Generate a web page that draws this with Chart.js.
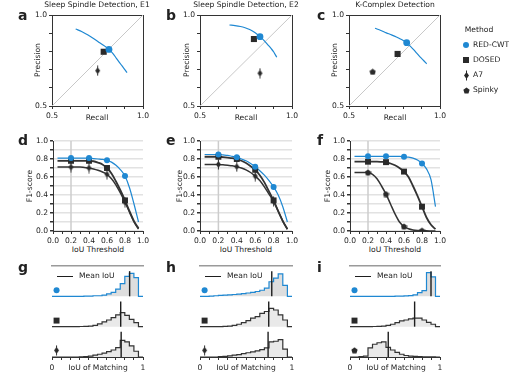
<!DOCTYPE html>
<html>
<head>
<meta charset="utf-8">
<script src="https://cdn.jsdelivr.net/npm/chart.js@4.4.1/dist/chart.umd.min.js"></script>
<style>
    body { margin: 0; width: 509px; height: 373px; overflow: hidden; position: relative; background: #fff; font-family: 'DejaVu Sans', sans-serif; color: #222; }
    canvas { position: absolute; }
    .t { position: absolute; white-space: nowrap; line-height: 1; font-size: 7.6px; transform: translate(-50%, -50%); }
    .letter { position: absolute; font-weight: bold; font-size: 14px; line-height: 1; }
    .mk { position: absolute; }
</style>
</head>
<body>
<script>
// ---- data ----

// precision / recall (a, b, c)
const e1CurveRecall = [0.63, 0.665, 0.698, 0.73, 0.762, 0.79, 0.813, 0.835, 0.854, 0.87, 0.885, 0.90, 0.912];
const e1CurvePrecision = [0.923, 0.908, 0.89, 0.87, 0.848, 0.829, 0.811, 0.788, 0.762, 0.74, 0.72, 0.70, 0.683];
const e1Red = [0.813, 0.811];   // [recall, precision]
const e1Dosed = [0.784, 0.798];
const e1A7 = [0.751, 0.694];

const e2CurveRecall = [0.66, 0.69, 0.72, 0.745, 0.77, 0.80, 0.826, 0.85, 0.87, 0.887, 0.90, 0.917];
const e2CurvePrecision = [0.945, 0.942, 0.937, 0.93, 0.92, 0.902, 0.881, 0.858, 0.835, 0.815, 0.798, 0.768];
const e2Red = [0.826, 0.881];
const e2Dosed = [0.793, 0.868];
const e2A7 = [0.826, 0.68];

const kcCurveRecall = [0.643, 0.675, 0.705, 0.725, 0.75, 0.775, 0.80, 0.817, 0.835, 0.855, 0.872, 0.89, 0.91, 0.927];
const kcCurvePrecision = [0.927, 0.915, 0.902, 0.894, 0.884, 0.872, 0.859, 0.848, 0.83, 0.81, 0.79, 0.77, 0.75, 0.732];
const kcRed = [0.817, 0.848];
const kcDosed = [0.767, 0.786];
const kcSpinky = [0.63, 0.688];

// F1 vs IoU threshold (d, e, f)
const iouThresholds = [0.05, 0.1, 0.15, 0.2, 0.25, 0.3, 0.35, 0.4, 0.45, 0.5, 0.55, 0.6, 0.65, 0.7, 0.75, 0.8, 0.85, 0.9, 0.95];
const markedThresholds = [0.2, 0.4, 0.6, 0.8];
const defaultThreshold = 0.2;

const e1F1Red = [0.81, 0.81, 0.81, 0.81, 0.81, 0.81, 0.81, 0.81, 0.805, 0.80, 0.795, 0.785, 0.765, 0.73, 0.68, 0.61, 0.48, 0.30, 0.10];
const e1F1Dosed = [0.78, 0.78, 0.78, 0.78, 0.78, 0.78, 0.78, 0.78, 0.775, 0.76, 0.74, 0.70, 0.64, 0.55, 0.45, 0.34, 0.22, 0.11, 0.03];
const e1F1A7 = [0.71, 0.71, 0.71, 0.71, 0.71, 0.71, 0.705, 0.70, 0.69, 0.675, 0.655, 0.63, 0.58, 0.51, 0.42, 0.32, 0.21, 0.10, 0.02];

const e2F1Red = [0.85, 0.85, 0.85, 0.85, 0.845, 0.84, 0.83, 0.82, 0.80, 0.78, 0.75, 0.715, 0.67, 0.62, 0.56, 0.49, 0.40, 0.27, 0.10];
const e2F1Dosed = [0.825, 0.825, 0.825, 0.825, 0.82, 0.815, 0.81, 0.80, 0.78, 0.755, 0.72, 0.68, 0.62, 0.54, 0.44, 0.34, 0.22, 0.11, 0.02];
const e2F1A7 = [0.74, 0.74, 0.74, 0.74, 0.735, 0.73, 0.725, 0.715, 0.70, 0.68, 0.65, 0.61, 0.56, 0.49, 0.41, 0.33, 0.22, 0.11, 0.02];

const kcF1Red = [0.83, 0.83, 0.83, 0.83, 0.83, 0.83, 0.83, 0.83, 0.83, 0.83, 0.83, 0.825, 0.82, 0.81, 0.79, 0.75, 0.69, 0.57, 0.27];
const kcF1Dosed = [0.77, 0.77, 0.77, 0.77, 0.77, 0.77, 0.768, 0.765, 0.75, 0.73, 0.70, 0.66, 0.60, 0.50, 0.39, 0.27, 0.15, 0.07, 0.02];
const kcF1Spinky = [0.65, 0.65, 0.65, 0.65, 0.63, 0.58, 0.50, 0.41, 0.30, 0.19, 0.10, 0.05, 0.025, 0.012, 0.006, 0.004, 0.002, 0.001, 0];

// IoU histograms (g, h, i): 20 bins, height as fraction of a row
const binLeft = [0, 0.05, 0.1, 0.15, 0.2, 0.25, 0.3, 0.35, 0.4, 0.45, 0.5, 0.55, 0.6, 0.65, 0.7, 0.75, 0.8, 0.85, 0.9, 0.95];
const e1HistRed = [0, 0, 0, 0, 0, 0, 0, 0, 0.01, 0.01, 0.02, 0.02, 0.04, 0.08, 0.13, 0.24, 0.42, 0.66, 0.76, 0.62];
const e1HistDosed = [0, 0, 0, 0, 0, 0, 0, 0.005, 0.01, 0.02, 0.045, 0.09, 0.16, 0.22, 0.3, 0.39, 0.46, 0.37, 0.24, 0.13];
const e1HistA7 = [0, 0, 0, 0, 0, 0, 0, 0.005, 0.01, 0.03, 0.06, 0.09, 0.13, 0.18, 0.23, 0.31, 0.55, 0.5, 0.37, 0.19];
const e1MeanIoU = [0.853, 0.755, 0.76];

const e2HistRed = [0, 0, 0, 0.01, 0.02, 0.03, 0.04, 0.05, 0.06, 0.07, 0.09, 0.11, 0.13, 0.16, 0.2, 0.27, 0.48, 0.6, 0.74, 0.36];
const e2HistDosed = [0, 0, 0, 0, 0, 0, 0.01, 0.02, 0.04, 0.08, 0.13, 0.2, 0.28, 0.33, 0.44, 0.5, 0.6, 0.55, 0.39, 0.22];
const e2HistA7 = [0, 0, 0, 0, 0, 0.01, 0.02, 0.04, 0.06, 0.08, 0.11, 0.14, 0.17, 0.2, 0.24, 0.3, 0.5, 0.52, 0.57, 0.26];
const e2MeanIoU = [0.78, 0.747, 0.74];

const kcHistRed = [0, 0, 0, 0, 0, 0, 0, 0, 0, 0, 0, 0.005, 0.01, 0.015, 0.025, 0.05, 0.12, 0.19, 0.78, 0.64];
const kcHistDosed = [0, 0, 0, 0, 0, 0, 0.005, 0.01, 0.02, 0.04, 0.08, 0.13, 0.19, 0.22, 0.26, 0.28, 0.28, 0.22, 0.14, 0.08];
const kcHistSpinky = [0, 0, 0, 0.01, 0.03, 0.3, 0.42, 0.47, 0.5, 0.32, 0.23, 0.15, 0.09, 0.05, 0.03, 0.02, 0.01, 0.005, 0.003, 0.002];
const kcMeanIoU = [0.90, 0.718, 0.425];

// ---- styling ----
const BLUE = '#1f88d2';
const DARK = '#2a2a2a';
const LINE_DARK = '#333333';

Chart.defaults.font.family = 'DejaVu Sans';
Chart.defaults.font.size = 7.6;
Chart.defaults.color = '#222';
Chart.defaults.animation = false;
Chart.defaults.plugins.legend.display = false;
Chart.defaults.plugins.tooltip.enabled = false;

// thin diamond with a short vertical error bar (A7)
function makeDiamond() {
    const c = document.createElement('canvas');
    c.width = 7; c.height = 11;
    const ctx = c.getContext('2d');
    ctx.fillStyle = DARK;
    ctx.fillRect(3, 0.5, 1, 10);
    ctx.beginPath();
    ctx.moveTo(3.5, 2); ctx.lineTo(6, 5.5); ctx.lineTo(3.5, 9); ctx.lineTo(1, 5.5);
    ctx.closePath();
    ctx.fill();
    return c;
}

// pentagon marker (Spinky)
function makePentagon() {
    const c = document.createElement('canvas');
    c.width = 7; c.height = 7;
    const ctx = c.getContext('2d');
    ctx.fillStyle = DARK;
    ctx.beginPath();
    for (let k = 0; k < 5; k++) {
        const a = -Math.PI / 2 + k * 2 * Math.PI / 5;
        const px = 3.5 + 3.3 * Math.cos(a), py = 3.8 + 3.3 * Math.sin(a);
        if (k === 0) ctx.moveTo(px, py); else ctx.lineTo(px, py);
    }
    ctx.closePath();
    ctx.fill();
    return c;
}

const diamondStyle = makeDiamond();
const pentagonStyle = makePentagon();

function near(a, b) { return Math.abs(a - b) < 1e-6; }

// places a chart so that its plot area is exactly r = {x, y, w, h}
function makePanel(r, padL, padB, datasets, scales) {
    const padT = 8, padR = 14;
    const canvas = document.createElement('canvas');
    canvas.width = r.w + padL + padR;
    canvas.height = r.h + padT + padB;
    canvas.style.left = (r.x - padL) + 'px';
    canvas.style.top = (r.y - padT) + 'px';
    document.body.appendChild(canvas);

    const yShown = scales.y.display !== false;
    scales.x.afterFit = s => { s.height = padB; s.paddingLeft = 0; s.paddingRight = 0; };
    if (yShown) scales.y.afterFit = s => { s.width = padL; s.paddingTop = 0; s.paddingBottom = 0; };
    if (scales.x2) scales.x2.afterFit = s => { s.height = 0; s.paddingLeft = 0; s.paddingRight = 0; };
    if (scales.y2) scales.y2.afterFit = s => { s.width = 0; s.paddingTop = 0; s.paddingBottom = 0; };

    return new Chart(canvas, {
        type: 'line',
        data: { datasets: datasets },
        options: {
            responsive: false,
            layout: { padding: { left: yShown ? 0 : padL, top: padT, right: padR, bottom: 0 } },
            scales: scales
        }
    });
}

function spine(position, color, width) {
    return {
        type: 'linear', position: position, min: 0, max: 1,
        ticks: { display: false },
        grid: { display: false },
        border: { color: color, width: width }
    };
}

function curve(xs, ys, color, width, order) {
    return {
        data: xs.map((x, i) => ({ x: x, y: ys[i] })),
        borderColor: color, borderWidth: width,
        pointRadius: 0, cubicInterpolationMode: 'monotone', fill: false, order: order
    };
}

function markers(points, style, color, radius, order) {
    return {
        data: points.map(p => ({ x: p[0], y: p[1] })),
        showLine: false, pointStyle: style, pointRadius: radius,
        backgroundColor: color, borderColor: color, borderWidth: 0, order: order
    };
}

// ---- a, b, c : precision vs recall ----
function prScales() {
    const axis = position => ({
        type: 'linear', position: position, min: 0.5, max: 1,
        ticks: {
            stepSize: 0.1, autoSkip: false, maxRotation: 0, padding: 2,
            callback: v => (near(v, 0.5) || near(v, 1)) ? v.toFixed(1) : ''
        },
        grid: { drawOnChartArea: false, tickLength: 3, tickColor: LINE_DARK },
        border: { color: LINE_DARK, width: 1 }
    });
    return { x: axis('bottom'), y: axis('left'), x2: spine('top', LINE_DARK, 1), y2: spine('right', LINE_DARK, 1) };
}

function diagonal() {
    return {
        data: [{ x: 0.5, y: 0.5 }, { x: 1, y: 1 }],
        borderColor: '#c8c8c8', borderWidth: 1, pointRadius: 0, order: 10
    };
}

function prPanel(r, recall, precision, red, dosed, other, otherStyle) {
    makePanel(r, 22, 14, [
        diagonal(),
        curve(recall, precision, BLUE, 1.2, 5),
        markers([dosed], 'rect', DARK, 4.3, 2),
        markers([other], otherStyle, DARK, 3, 2),
        markers([red], 'circle', BLUE, 3.4, 1)
    ], prScales());
}

prPanel({ x: 52, y: 15, w: 91, h: 91 }, e1CurveRecall, e1CurvePrecision, e1Red, e1Dosed, e1A7, diamondStyle);
prPanel({ x: 200, y: 15, w: 92, h: 91 }, e2CurveRecall, e2CurvePrecision, e2Red, e2Dosed, e2A7, diamondStyle);
prPanel({ x: 349, y: 15, w: 91, h: 91 }, kcCurveRecall, kcCurvePrecision, kcRed, kcDosed, kcSpinky, pentagonStyle);

// ---- d, e, f : F1 vs IoU threshold ----
function f1Scales() {
    const evenLabel = (v, i) => i % 2 === 0 ? v.toFixed(1) : '';
    return {
        x: {
            type: 'linear', min: 0, max: 1,
            ticks: { stepSize: 0.1, autoSkip: false, maxRotation: 0, padding: 2, callback: evenLabel },
            grid: { drawOnChartArea: false, tickLength: 3, tickColor: LINE_DARK },
            border: { color: LINE_DARK, width: 1 }
        },
        y: {
            type: 'linear', min: 0, max: 1,
            ticks: { stepSize: 0.1, autoSkip: false, padding: 2, callback: evenLabel },
            grid: { color: '#e2e2e2', lineWidth: 1.5, tickLength: 3, tickColor: LINE_DARK },
            border: { color: LINE_DARK, width: 1 }
        }
    };
}

function atThresholds(ys) {
    return markedThresholds.map(t => [t, ys[iouThresholds.indexOf(t)]]);
}

function f1Panel(r, red, dosed, other, otherStyle) {
    makePanel(r, 22, 14, [
        { data: [{ x: defaultThreshold, y: 0 }, { x: defaultThreshold, y: 1 }], borderColor: '#cccccc', borderWidth: 1.5, pointRadius: 0, order: 10 },
        curve(iouThresholds, other, LINE_DARK, 1.5, 7),
        curve(iouThresholds, dosed, LINE_DARK, 1.8, 6),
        curve(iouThresholds, red, BLUE, 1.2, 5),
        markers(atThresholds(other), otherStyle, DARK, 3, 3),
        markers(atThresholds(dosed), 'rect', DARK, 4.2, 2),
        markers(atThresholds(red), 'circle', BLUE, 3, 1)
    ], f1Scales());
}

f1Panel({ x: 53, y: 141, w: 90, h: 90 }, e1F1Red, e1F1Dosed, e1F1A7, diamondStyle);
f1Panel({ x: 200, y: 141, w: 92, h: 90 }, e2F1Red, e2F1Dosed, e2F1A7, diamondStyle);
f1Panel({ x: 350, y: 141, w: 90, h: 90 }, kcF1Red, kcF1Dosed, kcF1Spinky, pentagonStyle);

// ---- g, h, i : IoU histograms, three rows stacked (baselines 2, 1, 0) ----
function histRow(heights, base, color, fillColor, order) {
    const pts = binLeft.map((x, i) => ({ x: x, y: base + heights[i] }));
    pts.push({ x: 1, y: base });
    return {
        data: pts, stepped: 'after', borderColor: color, borderWidth: 1.2,
        backgroundColor: fillColor, fill: { value: base }, pointRadius: 0, order: order
    };
}

function meanLine(m, base) {
    return { data: [{ x: m, y: base }, { x: m, y: base + 0.83 }], borderColor: '#1e1e1e', borderWidth: 1.4, pointRadius: 0, order: 1 };
}

function histPanel(r, rows, means, otherStyle) {
    const bases = [2, 1, 0];
    const datasets = [
        histRow(rows[0], 2, BLUE, '#dedede', 5),
        histRow(rows[1], 1, LINE_DARK, '#e9e9e9', 5),
        histRow(rows[2], 0, LINE_DARK, '#e9e9e9', 5)
    ];
    means.forEach((m, k) => datasets.push(meanLine(m, bases[k])));
    datasets.push(markers([[0.05, 2.2]], 'circle', BLUE, 3, 0));
    datasets.push(markers([[0.05, 1.2]], 'rect', DARK, 4.2, 0));
    datasets.push(markers([[0.05, 0.22]], otherStyle, DARK, 3, 0));
    makePanel(r, 12, 14, datasets, {
        x: {
            type: 'linear', min: 0, max: 1,
            ticks: { stepSize: 0.1, autoSkip: false, maxRotation: 0, padding: 3, callback: v => near(v, 0) ? '0' : (near(v, 1) ? '1' : '') },
            grid: { drawOnChartArea: false, tickLength: 3, tickColor: LINE_DARK },
            border: { color: LINE_DARK, width: 1 }
        },
        x2: spine('top', '#9a9a9a', 1.5),
        y: { display: false, min: 0, max: 3 }
    });
}

histPanel({ x: 52, y: 266, w: 91, h: 91 }, [e1HistRed, e1HistDosed, e1HistA7], e1MeanIoU, diamondStyle);
histPanel({ x: 200, y: 266, w: 92, h: 91 }, [e2HistRed, e2HistDosed, e2HistA7], e2MeanIoU, diamondStyle);
histPanel({ x: 350, y: 266, w: 90, h: 91 }, [kcHistRed, kcHistDosed, kcHistSpinky], kcMeanIoU, pentagonStyle);

// ---- text ----
function text(str, x, y, rotate) {
    const d = document.createElement('div');
    d.className = 't';
    d.textContent = str;
    d.style.left = x + 'px';
    d.style.top = y + 'px';
    if (rotate) d.style.transform = 'translate(-50%, -50%) rotate(-90deg)';
    document.body.appendChild(d);
    return d;
}

function leftText(str, x, y) {
    const d = text(str, x, y);
    d.style.transform = 'translate(0, -50%)';
}

function letter(ch, x, baseline) {
    const d = document.createElement('div');
    d.className = 'letter';
    d.textContent = ch;
    d.style.left = x + 'px';
    d.style.top = (baseline - 11.8) + 'px';
    document.body.appendChild(d);
}

text('Sleep Spindle Detection, E1', 97, 5);
text('Sleep Spindle Detection, E2', 246, 5);
text('K-Complex Detection', 395, 5);

[[97, 38], [246, 187], [395, 335]].forEach(p => {
    text('Recall', p[0], 118);
    text('Precision', p[1], 60, true);
});
[[98, 30], [246, 180], [395, 328]].forEach(p => {
    text('IoU Threshold', p[0], 250);
    text('F1-score', p[1], 186, true);
});
[52, 200, 350].forEach(x => {
    text('IoU of Matching', x + 46, 368);
    const ln = document.createElement('div');
    ln.className = 'mk';
    ln.style.cssText = `left:${x + 5}px;top:275.5px;width:16px;height:1.3px;background:#1e1e1e;`;
    document.body.appendChild(ln);
    leftText('Mean IoU', x + 27, 276);
});

letter('a', 18, 20); letter('b', 166, 20); letter('c', 317, 20);
letter('d', 18, 145); letter('e', 166, 145); letter('f', 317, 145);
letter('g', 18, 272); letter('h', 166, 272); letter('i', 317, 272);

// ---- method legend ----
text('Method', 479, 30);
function legendMarker(el, cx, cy, w, h) {
    el.classList.add('mk');
    el.style.left = (cx - w / 2) + 'px';
    el.style.top = (cy - h / 2) + 'px';
    el.style.width = w + 'px';
    el.style.height = h + 'px';
    document.body.appendChild(el);
}
const dot = document.createElement('div');
dot.style.background = BLUE; dot.style.borderRadius = '50%';
legendMarker(dot, 466, 44.5, 6, 6);
const sq = document.createElement('div');
sq.style.background = DARK;
legendMarker(sq, 466, 60, 6, 6);
legendMarker(makeDiamond(), 466, 75, 7, 11);
legendMarker(makePentagon(), 466, 90, 7, 7);
leftText('RED-CWT', 473, 44.5);
leftText('DOSED', 473, 60);
leftText('A7', 473, 75);
leftText('Spinky', 473, 90);
</script>
</body>
</html>
